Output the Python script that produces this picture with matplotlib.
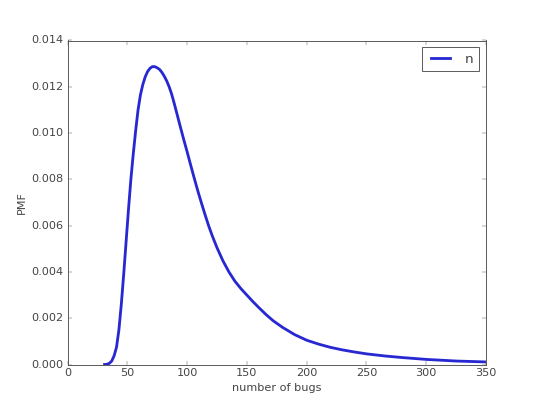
#!/usr/bin/env python3
"""Posterior PMF of the number of bugs."""

import matplotlib

matplotlib.use("Agg")
import matplotlib.pyplot as plt

plt.style.use("classic")

# values
bugs = [31, 33, 35, 37, 39, 41, 43, 45, 47, 49, 51, 53, 55, 57, 59, 61, 63,
        65, 67, 69, 71, 73, 75, 77, 79, 81, 83, 85, 87, 89, 91, 93, 95, 97,
        100, 103, 106, 109, 112, 115, 118, 121, 125, 130, 135, 140, 145,
        150, 155, 160, 166, 172, 180, 190, 200, 210, 220, 230, 240, 250,
        265, 280, 300, 325, 350]
pmf = [0.0, 0.00001, 0.00005, 0.00015, 0.00038, 0.00075, 0.0015, 0.0026,
       0.0039, 0.0053, 0.0067, 0.0080, 0.0091, 0.0101, 0.0110, 0.01165,
       0.0121, 0.01243, 0.01266, 0.0128, 0.01287, 0.01287, 0.01282, 0.01275,
       0.01262, 0.01245, 0.01225, 0.01200, 0.01170, 0.01133, 0.01094,
       0.01054, 0.01015, 0.00976, 0.0092, 0.00862, 0.00805, 0.0075, 0.00698,
       0.00648, 0.0060, 0.00557, 0.00505, 0.00448, 0.0040, 0.0036, 0.00328,
       0.0030, 0.00272, 0.00246, 0.00216, 0.00189, 0.0016, 0.00129, 0.00105,
       0.00088, 0.00074, 0.00063, 0.00054, 0.00046, 0.00037, 0.0003,
       0.00022, 0.00015, 0.00011]
label = "n"

grey = "#444444"
plt.rcParams.update({
    "text.color": grey,
    "axes.labelcolor": grey,
    "axes.edgecolor": "#555555",
    "xtick.color": "#555555",
    "ytick.color": "#555555",
})

fig = plt.figure(figsize=(8, 6), dpi=67.5)
ax = fig.add_subplot(111)
ax.plot(bugs, pmf, color="#2828d2", linewidth=3, label=label)
ax.set_xlim(0, 350)
ax.set_ylim(0, 0.014)
ax.set_xlabel("number of bugs")
ax.set_ylabel("PMF")
ax.tick_params(labelcolor=grey)
leg = ax.legend(loc="upper right", fontsize="large")
leg.get_frame().set_edgecolor("#555555")
fig.savefig("out.png", dpi=67.5)
